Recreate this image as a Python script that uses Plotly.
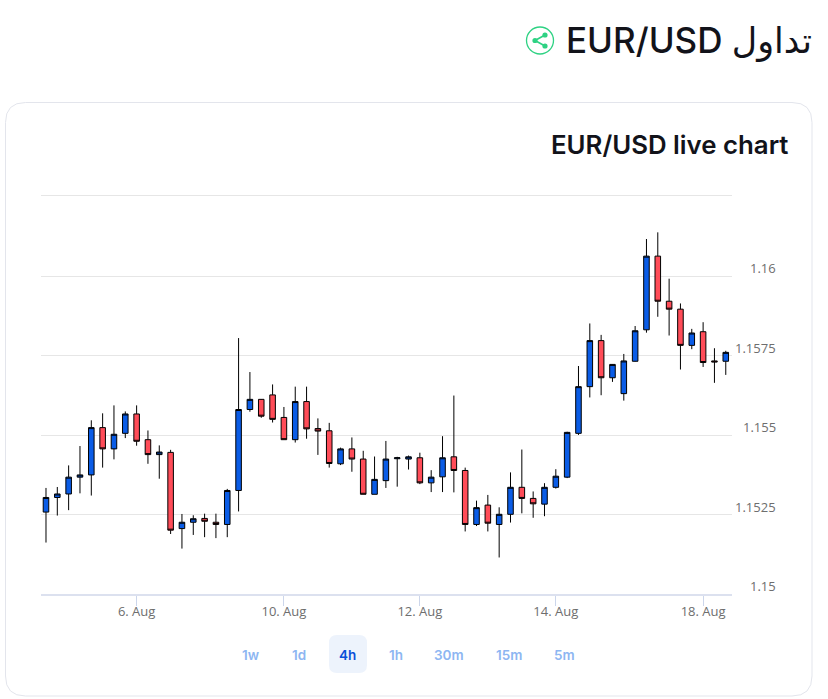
# EUR/USD 4h candles, card layout like the website widget
import plotly.graph_objects as go

# candle data
bar_index = list(range(61))
opens = [1.15258, 1.15304, 1.15315, 1.15368, 1.15375, 1.15524, 1.15457, 1.15506, 1.15567, 1.15486,
         1.15439, 1.15446, 1.15206, 1.15226, 1.15238, 1.15226, 1.15219, 1.15326, 1.15581, 1.15613,
         1.15627, 1.15556, 1.15486, 1.15606, 1.15521, 1.15514, 1.15410, 1.15457, 1.15425, 1.15314,
         1.15357, 1.15426, 1.15425, 1.15429, 1.15350, 1.15369, 1.15432, 1.15389, 1.15219, 1.15280,
         1.15219, 1.15251, 1.15336, 1.15301, 1.15283, 1.15336, 1.15368, 1.15506, 1.15653, 1.15798,
         1.15681, 1.15631, 1.15733, 1.15832, 1.16064, 1.15922, 1.15897, 1.15783, 1.15826, 1.15734,
         1.15733]
highs = [1.15334, 1.15337, 1.15405, 1.15466, 1.15547, 1.15569, 1.15594, 1.15575, 1.15594, 1.15515,
         1.15468, 1.15454, 1.15252, 1.15248, 1.15253, 1.15253, 1.15331, 1.15806, 1.15699, 1.15614,
         1.15660, 1.15589, 1.15653, 1.15653, 1.15553, 1.15539, 1.15461, 1.15493, 1.15451, 1.15433,
         1.15482, 1.15432, 1.15436, 1.15445, 1.15390, 1.15497, 1.15625, 1.15398, 1.15294, 1.15312,
         1.15273, 1.15383, 1.15455, 1.15323, 1.15349, 1.15393, 1.15511, 1.15718, 1.15852, 1.15816,
         1.15724, 1.15756, 1.15844, 1.16118, 1.16139, 1.15993, 1.15915, 1.15835, 1.15856, 1.15774,
         1.15766]
lows = [1.15162, 1.15247, 1.15264, 1.15317, 1.15310, 1.15398, 1.15424, 1.15491, 1.15467, 1.15410,
        1.15363, 1.15189, 1.15143, 1.15186, 1.15179, 1.15176, 1.15179, 1.15260, 1.15574, 1.15555,
        1.15540, 1.15486, 1.15477, 1.15489, 1.15438, 1.15398, 1.15406, 1.15385, 1.15314, 1.15314,
        1.15334, 1.15338, 1.15392, 1.15346, 1.15321, 1.15321, 1.15320, 1.15197, 1.15214, 1.15197,
        1.15115, 1.15225, 1.15254, 1.15240, 1.15245, 1.15332, 1.15365, 1.15501, 1.15619, 1.15626,
        1.15668, 1.15609, 1.15732, 1.15823, 1.15873, 1.15814, 1.15707, 1.15771, 1.15715, 1.15665,
        1.15690]
closes = [1.15304, 1.15315, 1.15368, 1.15375, 1.15524, 1.15457, 1.15503, 1.15567, 1.15481, 1.15439,
          1.15447, 1.15201, 1.15226, 1.15237, 1.15229, 1.15219, 1.15326, 1.15581, 1.15613, 1.15560,
          1.15550, 1.15486, 1.15606, 1.15520, 1.15513, 1.15411, 1.15457, 1.15425, 1.15314, 1.15361,
          1.15425, 1.15429, 1.15432, 1.15350, 1.15368, 1.15429, 1.15389, 1.15219, 1.15272, 1.15223,
          1.15251, 1.15336, 1.15301, 1.15284, 1.15336, 1.15371, 1.15509, 1.15653, 1.15798, 1.15681,
          1.15723, 1.15734, 1.15829, 1.16064, 1.15922, 1.15897, 1.15783, 1.15822, 1.15729, 1.15731,
          1.15761]

x_tick_bars = [8, 21, 33, 45, 58]
x_tick_labels = ['6. Aug', '10. Aug', '12. Aug', '14. Aug', '18. Aug']
y_grid_values = [1.15, 1.1525, 1.155, 1.1575, 1.16, 1.16255]
y_tick_values = [1.15, 1.1525, 1.155, 1.1575, 1.16]
y_tick_labels = ['1.15', '1.1525', '1.155', '1.1575', '1.16']
range_buttons = ['1w', '1d', '4h', '1h', '30m', '15m', '5m']
button_centres = [251, 299, 347.5, 396, 449, 509, 564]

# plot area in page pixels
W, H = 828, 699
LEFT, RIGHT, TOP, BOTTOM = 41, 732, 192, 594


def px(x):
    return (x - LEFT) / (RIGHT - LEFT)


def py(y):
    return (BOTTOM - y) / (BOTTOM - TOP)


fig = go.Figure()

fig.add_trace(go.Candlestick(
    x=bar_index,
    open=opens,
    high=highs,
    low=lows,
    close=closes,
    increasing=dict(fillcolor='#0a5ce6', line=dict(color='#000000', width=1)),
    decreasing=dict(fillcolor='#ff4c58', line=dict(color='#000000', width=1)),
    whiskerwidth=0,
    showlegend=False,
))

shapes = []
# card outline, rounded corners
cx0, cx1, cy0, cy1, r = 5.5, 812, 102.5, 696, 20
card_path = (
    f'M {px(cx0 + r)} {py(cy0)} L {px(cx1 - r)} {py(cy0)} '
    f'Q {px(cx1)} {py(cy0)} {px(cx1)} {py(cy0 + r)} L {px(cx1)} {py(cy1 - r)} '
    f'Q {px(cx1)} {py(cy1)} {px(cx1 - r)} {py(cy1)} L {px(cx0 + r)} {py(cy1)} '
    f'Q {px(cx0)} {py(cy1)} {px(cx0)} {py(cy1 - r)} L {px(cx0)} {py(cy0 + r)} '
    f'Q {px(cx0)} {py(cy0)} {px(cx0 + r)} {py(cy0)} Z'
)
shapes.append(dict(type='path', xref='paper', yref='paper', path=card_path, layer='below',
                   line=dict(color='#e3e5ec', width=1)))

# highlighted 4h button
bx0, bx1, by0, by1, br = 329, 367, 635, 673, 8
button_path = (
    f'M {px(bx0 + br)} {py(by0)} L {px(bx1 - br)} {py(by0)} '
    f'Q {px(bx1)} {py(by0)} {px(bx1)} {py(by0 + br)} L {px(bx1)} {py(by1 - br)} '
    f'Q {px(bx1)} {py(by1)} {px(bx1 - br)} {py(by1)} L {px(bx0 + br)} {py(by1)} '
    f'Q {px(bx0)} {py(by1)} {px(bx0)} {py(by1 - br)} L {px(bx0)} {py(by0 + br)} '
    f'Q {px(bx0)} {py(by0)} {px(bx0 + br)} {py(by0)} Z'
)
shapes.append(dict(type='path', xref='paper', yref='paper', path=button_path, layer='below',
                   fillcolor='#edf3fc', line=dict(width=0)))

# share icon
green = '#2ed283'
shapes.append(dict(type='circle', xref='paper', yref='paper', x0=px(526.5), x1=px(553.5),
                   y0=py(54), y1=py(27), line=dict(color=green, width=1.3)))
for ix0, iy0, ix1, iy1 in [(535, 40.5, 545, 35), (535, 40.5, 545, 46)]:
    shapes.append(dict(type='line', xref='paper', yref='paper', x0=px(ix0), x1=px(ix1),
                       y0=py(iy0), y1=py(iy1), line=dict(color=green, width=1.6)))
for dot_x, dot_y, dot_r in [(535, 40.5, 2.6), (545, 35, 2.6), (545, 46, 2.6)]:
    shapes.append(dict(type='circle', xref='paper', yref='paper', x0=px(dot_x - dot_r), x1=px(dot_x + dot_r),
                       y0=py(dot_y + dot_r), y1=py(dot_y - dot_r), fillcolor=green, line=dict(width=0)))

annotations = []
# page heading and card title
annotations.append(dict(text='EUR/USD تداول', xref='paper', yref='paper', x=px(813.5), y=py(40.5),
                        xanchor='right', yanchor='middle', showarrow=False,
                        font=dict(family='Inter, "DejaVu Sans"', size=35, color='#12131a', weight=500)))
annotations.append(dict(text='EUR/USD live chart', xref='paper', yref='paper', x=px(790), y=py(144),
                        xanchor='right', yanchor='middle', showarrow=False,
                        font=dict(family='Inter', size=25.8, color='#12131a', weight=600)))

# y labels sit above the grid lines and are right aligned
for val, lab in zip(y_tick_values, y_tick_labels):
    annotations.append(dict(text=lab, xref='paper', yref='y', x=px(777.5), y=val, xanchor='right',
                            yanchor='middle', yshift=8, showarrow=False,
                            font=dict(family='Open Sans', size=13, color='#6e6e6e')))

# range buttons
for name, centre in zip(range_buttons, button_centres):
    annotations.append(dict(text=name, xref='paper', yref='paper', x=px(centre), y=py(654.5),
                            xanchor='center', yanchor='middle', showarrow=False,
                            font=dict(family='Inter', size=13.5, weight=600,
                                      color='#0a50d8' if name == '4h' else '#8db6f2')))

fig.update_layout(
    width=W,
    height=H,
    autosize=False,
    margin=dict(l=LEFT, r=W - RIGHT, t=TOP, b=H - BOTTOM, pad=0),
    paper_bgcolor='white',
    plot_bgcolor='white',
    shapes=shapes,
    annotations=annotations,
    showlegend=False,
    xaxis=dict(
        range=[-0.44, 60.55],
        rangeslider=dict(visible=False),
        tickmode='array',
        tickvals=x_tick_bars,
        ticktext=x_tick_labels,
        ticks='outside',
        ticklen=10,
        tickwidth=1,
        tickcolor='#ccd6eb',
        ticklabelstandoff=-6,
        showgrid=False,
        zeroline=False,
        showline=True,
        linecolor='#dce1ef',
        linewidth=2,
        tickfont=dict(family='Open Sans', size=13, color='#6e6e6e'),
    ),
    yaxis=dict(
        range=[1.15, 1.16266],
        side='right',
        tickmode='array',
        tickvals=y_grid_values,
        showticklabels=False,
        showgrid=True,
        gridcolor='#e6e6e6',
        gridwidth=1,
        zeroline=False,
    ),
)

fig.write_html('out.html', config=dict(displayModeBar=False),
               post_script="document.body.style.margin='0';")
